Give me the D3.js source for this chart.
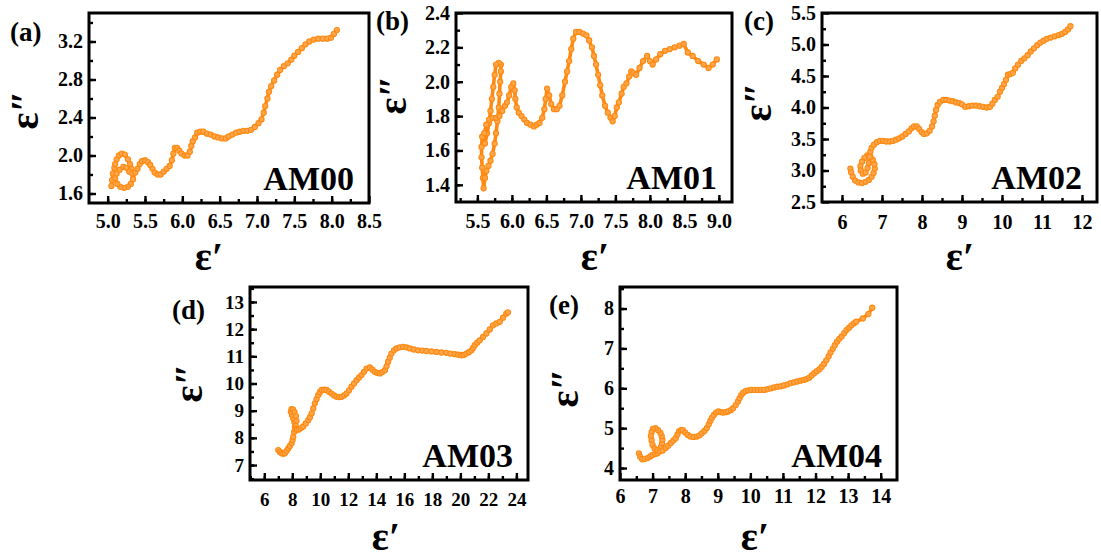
<!DOCTYPE html>
<html><head><meta charset="utf-8">
<script src="https://cdn.jsdelivr.net/npm/d3@7"></script>
<style>body{margin:0;background:#fff} svg{display:block}</style>
</head><body><svg id="c" width="1101" height="558"></svg>
<script>
// ---- data: [epsilon', epsilon''] pairs ----
const AM00 = [[5.05,1.68],[5.06,1.74],[5.07,1.81],[5.09,1.87],[5.10,1.91],[5.12,1.96],[5.15,2.00],[5.19,2.02],[5.23,2.01],[5.27,1.96],[5.30,1.91],[5.32,1.86],[5.34,1.80],[5.34,1.75],[5.31,1.70],[5.27,1.67],[5.22,1.66],[5.17,1.67],[5.13,1.70],[5.10,1.76],[5.12,1.81],[5.16,1.85],[5.21,1.88],[5.25,1.87],[5.29,1.83],[5.33,1.81],[5.37,1.82],[5.40,1.86],[5.43,1.91],[5.46,1.94],[5.50,1.95],[5.54,1.93],[5.57,1.90],[5.60,1.86],[5.63,1.82],[5.67,1.80],[5.71,1.80],[5.75,1.83],[5.79,1.86],[5.83,1.89],[5.86,1.95],[5.88,2.02],[5.90,2.08],[5.93,2.08],[5.96,2.05],[5.99,2.02],[6.03,2.00],[6.07,2.00],[6.10,2.04],[6.12,2.10],[6.14,2.15],[6.17,2.19],[6.20,2.24],[6.24,2.25],[6.28,2.25],[6.33,2.23],[6.38,2.22],[6.43,2.20],[6.48,2.19],[6.53,2.18],[6.58,2.18],[6.62,2.20],[6.67,2.22],[6.72,2.24],[6.77,2.25],[6.82,2.26],[6.87,2.26],[6.92,2.27],[6.97,2.30],[7.02,2.34],[7.06,2.38],[7.09,2.45],[7.11,2.52],[7.14,2.60],[7.16,2.67],[7.19,2.73],[7.23,2.79],[7.27,2.85],[7.31,2.90],[7.36,2.94],[7.41,2.97],[7.46,3.01],[7.50,3.05],[7.55,3.09],[7.60,3.13],[7.65,3.17],[7.70,3.20],[7.76,3.22],[7.82,3.23],[7.88,3.23],[7.94,3.23],[7.99,3.24],[8.03,3.28],[8.07,3.32]];

const AM01 = [[5.57,1.68],[5.56,1.62],[5.56,1.56],[5.57,1.50],[5.58,1.44],[5.59,1.38],[5.61,1.44],[5.63,1.48],[5.66,1.51],[5.69,1.54],[5.72,1.58],[5.75,1.64],[5.77,1.70],[5.79,1.77],[5.81,1.85],[5.82,1.93],[5.83,2.00],[5.84,2.06],[5.84,2.10],[5.81,2.11],[5.77,2.10],[5.75,2.04],[5.73,1.97],[5.71,1.90],[5.69,1.83],[5.67,1.76],[5.64,1.70],[5.61,1.64],[5.60,1.70],[5.63,1.75],[5.67,1.78],[5.72,1.79],[5.77,1.79],[5.82,1.80],[5.86,1.83],[5.90,1.86],[5.93,1.88],[5.96,1.92],[5.99,1.97],[6.02,1.99],[6.04,1.95],[6.05,1.90],[6.07,1.85],[6.10,1.82],[6.14,1.80],[6.18,1.78],[6.22,1.76],[6.27,1.75],[6.32,1.74],[6.36,1.75],[6.40,1.76],[6.44,1.79],[6.47,1.84],[6.49,1.90],[6.51,1.96],[6.54,1.92],[6.57,1.87],[6.61,1.84],[6.65,1.84],[6.69,1.86],[6.73,1.92],[6.77,2.00],[6.80,2.06],[6.83,2.12],[6.86,2.19],[6.89,2.25],[6.93,2.29],[6.98,2.29],[7.03,2.28],[7.08,2.27],[7.12,2.24],[7.16,2.20],[7.19,2.15],[7.22,2.10],[7.25,2.04],[7.28,1.98],[7.31,1.92],[7.35,1.86],[7.39,1.82],[7.43,1.79],[7.46,1.77],[7.49,1.80],[7.52,1.85],[7.55,1.88],[7.59,1.93],[7.62,1.97],[7.66,1.99],[7.70,2.03],[7.73,2.06],[7.76,2.05],[7.80,2.04],[7.85,2.08],[7.90,2.12],[7.96,2.15],[8.00,2.12],[8.04,2.10],[8.09,2.13],[8.15,2.16],[8.22,2.18],[8.29,2.19],[8.36,2.20],[8.43,2.21],[8.49,2.22],[8.55,2.17],[8.62,2.15],[8.70,2.12],[8.78,2.10],[8.85,2.08],[8.91,2.10],[8.97,2.13]];

const AM02 = [[6.21,3.03],[6.23,2.97],[6.27,2.90],[6.33,2.84],[6.41,2.81],[6.50,2.80],[6.59,2.82],[6.67,2.85],[6.74,2.90],[6.79,2.96],[6.82,3.03],[6.81,3.10],[6.77,3.17],[6.71,3.22],[6.63,3.24],[6.56,3.20],[6.50,3.14],[6.46,3.07],[6.47,3.00],[6.52,2.95],[6.59,2.97],[6.64,3.04],[6.67,3.12],[6.69,3.22],[6.71,3.30],[6.74,3.36],[6.80,3.41],[6.87,3.45],[6.95,3.47],[7.03,3.47],[7.11,3.46],[7.19,3.46],[7.27,3.47],[7.35,3.49],[7.43,3.51],[7.51,3.54],[7.59,3.58],[7.67,3.62],[7.74,3.67],[7.80,3.70],[7.87,3.70],[7.93,3.66],[7.99,3.61],[8.05,3.58],[8.12,3.59],[8.19,3.63],[8.25,3.70],[8.29,3.78],[8.32,3.87],[8.35,3.96],[8.39,4.04],[8.45,4.09],[8.53,4.12],[8.61,4.12],[8.69,4.11],[8.77,4.10],[8.85,4.08],[8.93,4.07],[9.00,4.05],[9.08,4.01],[9.17,4.02],[9.26,4.03],[9.35,4.03],[9.44,4.02],[9.53,4.01],[9.62,4.00],[9.70,4.01],[9.76,4.06],[9.82,4.12],[9.89,4.17],[9.95,4.25],[10.00,4.31],[10.05,4.37],[10.10,4.44],[10.15,4.52],[10.21,4.53],[10.27,4.55],[10.33,4.62],[10.40,4.68],[10.48,4.74],[10.56,4.78],[10.64,4.83],[10.72,4.89],[10.80,4.94],[10.88,4.99],[10.96,5.03],[11.04,5.06],[11.12,5.09],[11.22,5.11],[11.32,5.13],[11.42,5.15],[11.50,5.17],[11.58,5.20],[11.65,5.24],[11.71,5.29]];

const AM03 = [[7.00,7.55],[7.12,7.48],[7.24,7.43],[7.36,7.42],[7.47,7.43],[7.59,7.52],[7.71,7.61],[7.83,7.70],[7.95,7.80],[8.02,7.92],[8.07,8.04],[8.13,8.22],[8.19,8.41],[8.15,8.57],[8.07,8.71],[7.98,8.84],[7.90,8.96],[7.95,9.06],[8.06,9.04],[8.16,8.95],[8.26,8.80],[8.30,8.62],[8.24,8.45],[8.22,8.33],[8.33,8.29],[8.47,8.31],[8.62,8.36],[8.78,8.42],[8.96,8.53],[9.14,8.65],[9.26,8.76],[9.38,8.90],[9.50,9.08],[9.61,9.27],[9.73,9.42],[9.85,9.57],[9.97,9.68],[10.09,9.76],[10.27,9.77],[10.45,9.76],[10.62,9.70],[10.80,9.63],[10.98,9.56],[11.16,9.51],[11.34,9.50],[11.52,9.51],[11.70,9.56],[11.87,9.63],[12.05,9.75],[12.23,9.88],[12.41,10.00],[12.59,10.12],[12.77,10.22],[12.94,10.31],[13.12,10.43],[13.30,10.55],[13.54,10.59],[13.72,10.51],[13.89,10.43],[14.07,10.39],[14.25,10.37],[14.43,10.42],[14.61,10.49],[14.73,10.63],[14.84,10.80],[14.96,10.95],[15.08,11.10],[15.26,11.22],[15.44,11.29],[15.67,11.33],[15.91,11.35],[16.15,11.33],[16.39,11.29],[16.68,11.25],[16.98,11.22],[17.28,11.21],[17.58,11.20],[17.94,11.18],[18.29,11.16],[18.64,11.14],[19.00,11.13],[19.30,11.10],[19.60,11.08],[19.84,11.06],[20.07,11.04],[20.25,11.05],[20.43,11.10],[20.61,11.15],[20.79,11.22],[20.91,11.31],[21.03,11.41],[21.20,11.50],[21.38,11.59],[21.62,11.71],[21.86,11.84],[22.10,11.99],[22.33,12.14],[22.57,12.21],[22.81,12.27],[23.05,12.42],[23.28,12.57],[23.40,12.62]];

const AM04 = [[6.58,4.37],[6.62,4.28],[6.68,4.22],[6.76,4.23],[6.85,4.25],[6.93,4.29],[7.00,4.33],[7.08,4.35],[7.15,4.37],[7.21,4.44],[7.26,4.53],[7.29,4.62],[7.30,4.71],[7.28,4.80],[7.24,4.88],[7.17,4.95],[7.09,5.00],[7.01,4.98],[6.97,4.90],[6.95,4.80],[6.97,4.69],[7.00,4.58],[7.06,4.49],[7.14,4.45],[7.22,4.42],[7.31,4.44],[7.40,4.50],[7.48,4.56],[7.56,4.63],[7.64,4.69],[7.71,4.75],[7.76,4.84],[7.81,4.92],[7.87,4.95],[7.93,4.95],[8.00,4.89],[8.08,4.83],[8.16,4.79],[8.26,4.78],[8.36,4.79],[8.44,4.82],[8.51,4.87],[8.59,4.93],[8.66,5.00],[8.72,5.09],[8.77,5.18],[8.82,5.26],[8.88,5.33],[8.95,5.39],[9.02,5.42],[9.10,5.40],[9.17,5.39],[9.25,5.40],[9.32,5.42],[9.40,5.45],[9.47,5.50],[9.55,5.58],[9.62,5.67],[9.67,5.75],[9.72,5.83],[9.78,5.89],[9.85,5.93],[9.94,5.95],[10.03,5.96],[10.13,5.96],[10.23,5.96],[10.33,5.96],[10.43,5.96],[10.53,5.98],[10.63,6.00],[10.73,6.02],[10.83,6.04],[10.93,6.05],[11.03,6.07],[11.14,6.10],[11.24,6.13],[11.34,6.15],[11.44,6.17],[11.54,6.19],[11.64,6.21],[11.72,6.23],[11.80,6.26],[11.88,6.32],[11.96,6.38],[12.04,6.43],[12.12,6.48],[12.19,6.54],[12.26,6.61],[12.33,6.70],[12.40,6.80],[12.46,6.90],[12.53,6.99],[12.59,7.08],[12.66,7.17],[12.73,7.24],[12.80,7.30],[12.88,7.38],[12.95,7.46],[13.03,7.52],[13.10,7.58],[13.18,7.63],[13.25,7.67],[13.45,7.75],[13.62,7.86],[13.74,8.02]];

// ---- tick labels ----
const xTicksA = [5.0,5.5,6.0,6.5,7.0,7.5,8.0,8.5], yTicksA = [1.6,2.0,2.4,2.8,3.2];
const xTicksB = [5.5,6.0,6.5,7.0,7.5,8.0,8.5,9.0], yTicksB = [1.4,1.6,1.8,2.0,2.2,2.4];
const xTicksC = [6,7,8,9,10,11,12], yTicksC = [2.5,3.0,3.5,4.0,4.5,5.0,5.5];
const xTicksD = [6,8,10,12,14,16,18,20,22,24], yTicksD = [7,8,9,10,11,12,13];
const xTicksE = [6,7,8,9,10,11,12,13,14], yTicksE = [4,5,6,7,8];
const sampleNames = ['AM00','AM01','AM02','AM03','AM04'];
const panelTags = ['(a)','(b)','(c)','(d)','(e)'];

// ---- layout / style ----
const FONT = '"Liberation Serif","Times New Roman",Times,serif';
const ORANGE = '#ff8a12';
const panels = [
 {data:AM00, box:[89,13,369,203], xd:[4.75,8.5], yd:[1.5,3.5], xt:xTicksA, yt:yTicksA, xm:0.25, ym:0.2, xf:'.1f', yf:'.1f', fs:20, xpad:11, tag:[10,41], xT:[209,270], yT:[29,110]},
 {data:AM01, box:[456,13,732,202], xd:[5.19,9.19], yd:[1.3,2.4], xt:xTicksB, yt:yTicksB, xm:0.25, ym:0.1, xf:'.1f', yf:'.1f', fs:20, xpad:12, tag:[376,30], xT:[595,270], yT:[397,95]},
 {data:AM02, box:[822,13,1097,202], xd:[5.5,12.375], yd:[2.5,5.5], xt:xTicksC, yt:yTicksC, xm:0.5, ym:0.25, xf:'d', yf:'.1f', fs:20, xpad:13, tag:[744,30], xT:[960,270], yT:[762,102]},
 {data:AM03, box:[250,287,528,480], xd:[4.98,24.83], yd:[6.45,13.55], xt:xTicksD, yt:yTicksD, xm:1, ym:0.5, xf:'d', yf:'d', fs:19, xpad:13, tag:[172,319], xT:[386,550], yT:[193,383]},
 {data:AM04, box:[620,287,897,480], xd:[6,14.5], yd:[3.7,8.54], xt:xTicksE, yt:yTicksE, xm:0.5, ym:0.5, xf:'d', yf:'d', fs:20, xpad:9, tag:[549,314], xT:[755,550], yT:[569,388]}
];

const svg = d3.select('#c');
svg.append('rect').attr('width',1101).attr('height',558).attr('fill','#fff');

panels.forEach((p,i) => {
  const [L,T,R,B] = p.box;
  const x = d3.scaleLinear().domain(p.xd).range([L,R]);
  const y = d3.scaleLinear().domain(p.yd).range([B,T]);
  const g = svg.append('g');

  // minor ticks (inward)
  const eps = 1e-9;
  const xMinor = d3.range(Math.ceil((p.xd[0]+0.02)/p.xm)*p.xm, p.xd[1]-0.02, p.xm);
  const yMinor = d3.range(Math.ceil((p.yd[0]+0.02)/p.ym)*p.ym, p.yd[1]-0.02+eps, p.ym);
  const xa = g.append('g').attr('transform',`translate(0,${B})`)
    .call(d3.axisBottom(x).tickValues(xMinor).tickSize(-4).tickFormat(''));
  const ya = g.append('g').attr('transform',`translate(${L},0)`)
    .call(d3.axisLeft(y).tickValues(yMinor).tickSize(-4).tickFormat(''));
  // major ticks with labels
  const xA = g.append('g').attr('transform',`translate(0,${B})`)
    .call(d3.axisBottom(x).tickValues(p.xt).tickSize(-7).tickPadding(p.xpad).tickFormat(d3.format(p.xf)));
  const yA = g.append('g').attr('transform',`translate(${L},0)`)
    .call(d3.axisLeft(y).tickValues(p.yt.filter(v=>v<=p.yd[1]+eps)).tickSize(-7).tickPadding(6).tickFormat(d3.format(p.yf)));
  [xa,ya,xA,yA].forEach(a => {
    a.select('.domain').remove();
    a.selectAll('line').attr('stroke','#000').attr('stroke-width',2.4);
    a.selectAll('text').attr('font-family',FONT).attr('font-weight','bold')
      .attr('font-size',p.fs).attr('fill','#000');
  });

  // data
  const clipId = 'clip'+i;
  g.append('clipPath').attr('id',clipId).append('rect')
    .attr('x',L).attr('y',T).attr('width',R-L).attr('height',B-T);
  const dg = g.append('g').attr('clip-path',`url(#${clipId})`);
  dg.append('path').datum(p.data)
    .attr('d', d3.line().x(d=>x(d[0])).y(d=>y(d[1])))
    .attr('fill','none').attr('stroke',ORANGE).attr('stroke-width',3.6)
    .attr('stroke-linejoin','round').attr('stroke-linecap','round');
  dg.selectAll('circle').data(p.data).join('circle')
    .attr('cx',d=>x(d[0])).attr('cy',d=>y(d[1])).attr('r',2.6)
    .attr('fill','#ffa54a').attr('stroke',ORANGE).attr('stroke-width',1.1);

  // frame
  g.append('rect').attr('x',L).attr('y',T).attr('width',R-L).attr('height',B-T)
    .attr('fill','none').attr('stroke','#000').attr('stroke-width',3);

  // sample name
  g.append('text').attr('x',R-15).attr('y',B-13).attr('text-anchor','end')
    .attr('font-family',FONT).attr('font-weight','bold').attr('font-size',34)
    .text(sampleNames[i]);
  // panel tag
  g.append('text').attr('x',p.tag[0]).attr('y',p.tag[1])
    .attr('font-family',FONT).attr('font-weight','bold').attr('font-size',27)
    .text(panelTags[i]);
  // axis titles
  g.append('text').attr('x',p.xT[0]).attr('y',p.xT[1]).attr('text-anchor','middle')
    .attr('font-family',FONT).attr('font-weight','bold').attr('font-size',40)
    .text('ε\u2032');
  g.append('text').attr('transform',`translate(${p.yT[0]},${p.yT[1]}) rotate(-90)`)
    .attr('text-anchor','middle').attr('dy','0.23em')
    .attr('font-family',FONT).attr('font-weight','bold').attr('font-size',40)
    .text('ε\u2033');
});
</script>
</body></html>
